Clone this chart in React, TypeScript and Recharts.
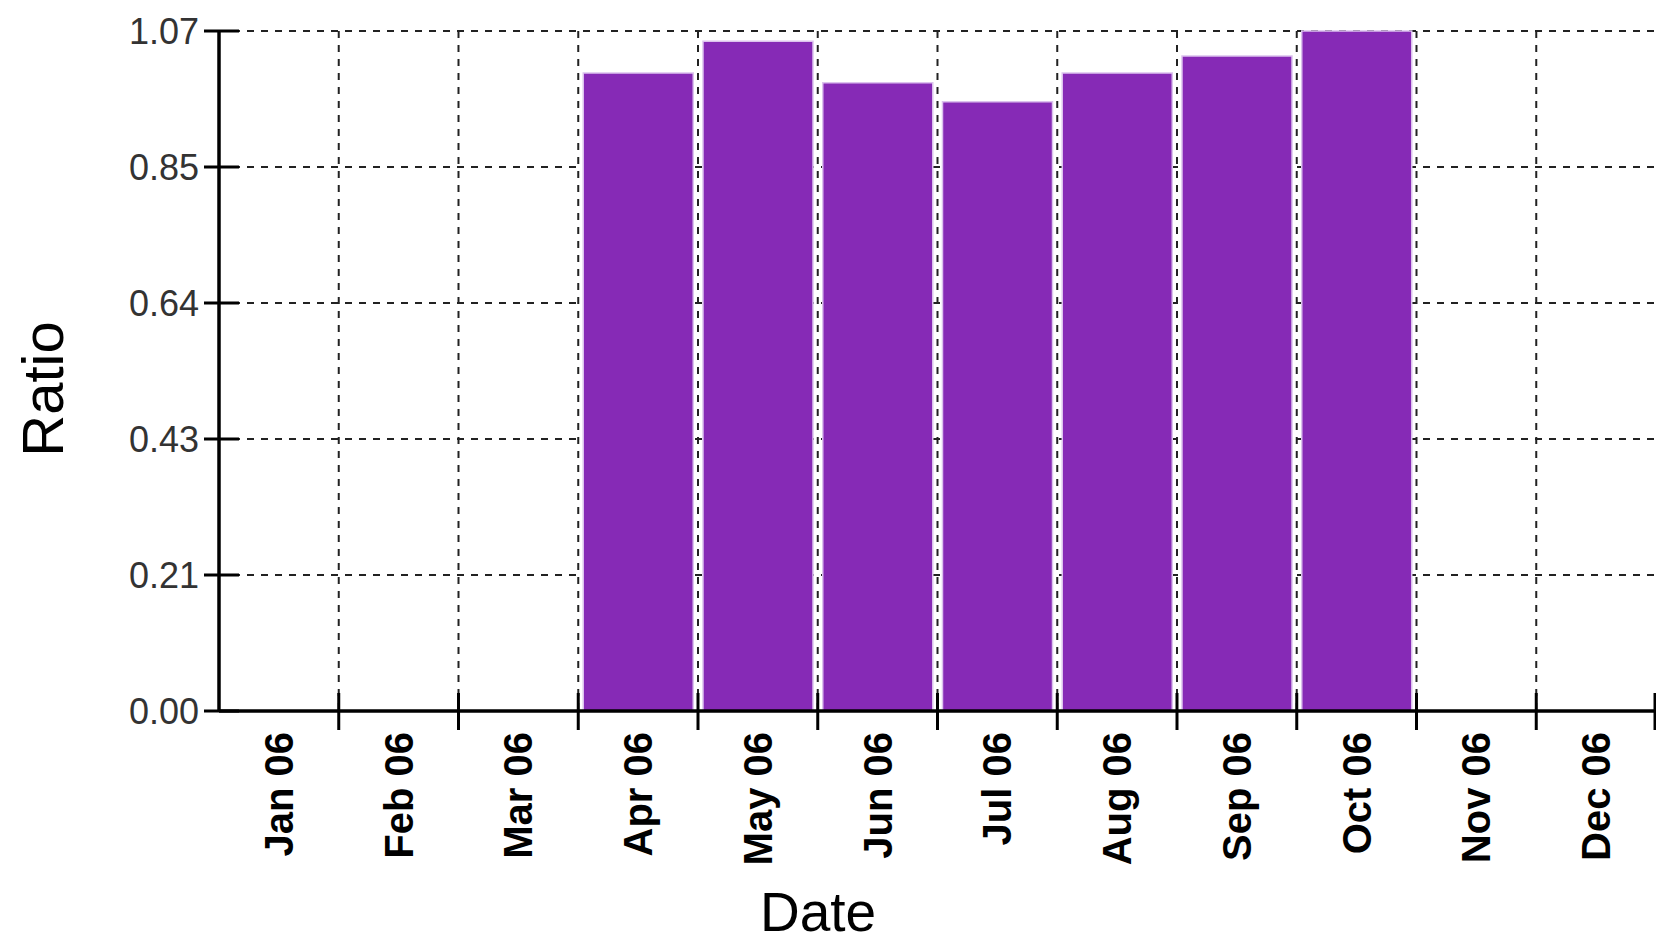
import { BarChart, Bar, XAxis, YAxis, CartesianGrid } from 'recharts'

const months = ['Jan 06', 'Feb 06', 'Mar 06', 'Apr 06', 'May 06', 'Jun 06', 'Jul 06', 'Aug 06', 'Sep 06', 'Oct 06', 'Nov 06', 'Dec 06']
const ratios = [null, null, null, 1.0, 1.05, 0.985, 0.955, 1.0, 1.027, 1.066, null, null]
const yTicks = [0, 0.2132, 0.4264, 0.6396, 0.8528, 1.066]

const W = 1656
const H = 946
const LEFT = 219
const TOP = 31
const XAXIS_H = 235
const BAND = (W - LEFT) / months.length

const data = months.map((month, i) => ({ month, ratio: ratios[i] }))

const FONT = '"Liberation Sans", Arial, sans-serif'

function RatioTick({ x, y, payload }: any) {
  return (
    <g>
      <line x1={x - 15} x2={x + 20} y1={y} y2={y} stroke="#000" strokeWidth={3} />
      <text x={x - 20} y={y + 13} textAnchor="end" fontFamily={FONT} fontSize={36} fill="#333">
        {Number(payload.value).toFixed(2)}
      </text>
    </g>
  )
}

function MonthTick({ x, y, payload, index }: any) {
  const i = index ?? payload.index
  const half = payload.offset || BAND / 2
  return (
    <g>
      {i > 0 && <line x1={x - half} x2={x - half} y1={y - 18} y2={y + 19} stroke="#000" strokeWidth={3} />}
      {i === months.length - 1 && <line x1={x + half - 1} x2={x + half - 1} y1={y - 18} y2={y + 19} stroke="#000" strokeWidth={3} />}
      <text
        transform={`translate(${x + 14}, ${y + 21}) rotate(-90)`}
        textAnchor="end"
        fontFamily={FONT}
        fontWeight="bold"
        fontSize={40}
        fill="#000"
      >
        {payload.value}
      </text>
    </g>
  )
}

function DateTitle() {
  return (
    <text x={818} y={931} textAnchor="middle" fontFamily={FONT} fontSize={55} fill="#000">
      Date
    </text>
  )
}

function RatioTitle({ viewBox }: any) {
  const cy = (viewBox?.y ?? TOP) + (viewBox?.height ?? 680) / 2 + 18
  return (
    <text transform={`translate(63, ${cy}) rotate(-90)`} textAnchor="middle" fontFamily={FONT} fontSize={58} fill="#000">
      Ratio
    </text>
  )
}

export default function App() {
  return (
    <div style={{ position: 'absolute', left: 0, top: 0, width: W, height: H, overflow: 'hidden', background: '#fff' }}>
      <BarChart width={W} height={H} data={data} margin={{ top: TOP, right: 0, left: 0, bottom: 0 }} barCategoryGap={5}>
        <CartesianGrid
          stroke="#222"
          strokeWidth={2}
          strokeDasharray="7 7"
          verticalCoordinatesGenerator={({ offset }: any) =>
            months.slice(1).map((_, i) => offset.left + (offset.width / months.length) * (i + 1))
          }
        />
        <XAxis
          dataKey="month"
          height={XAXIS_H}
          interval={0}
          tickLine={false}
          tickSize={0}
          tickMargin={0}
          axisLine={{ stroke: '#000', strokeWidth: 3.5 }}
          tick={<MonthTick />}
          label={<DateTitle />}
        />
        <YAxis
          width={LEFT}
          domain={[0, 1.066]}
          ticks={yTicks}
          interval={0}
          tickLine={false}
          tickSize={0}
          tickMargin={0}
          axisLine={{ stroke: '#000', strokeWidth: 3.5 }}
          tick={<RatioTick />}
          label={<RatioTitle />}
        />
        <Bar dataKey="ratio" fill="#862AB6" stroke="#dcc2ee" strokeWidth={1.5} isAnimationActive={false} />
      </BarChart>
    </div>
  )
}
